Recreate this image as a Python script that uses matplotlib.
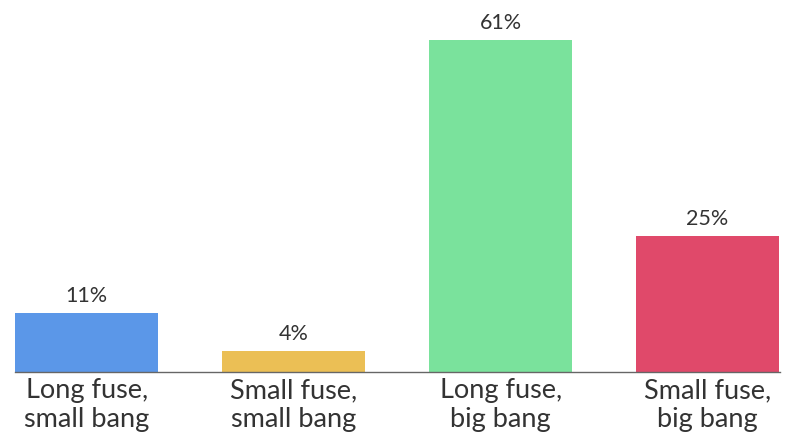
import matplotlib
matplotlib.use("Agg")
import matplotlib.pyplot as plt

categories = ["Long fuse,\nsmall bang", "Small fuse,\nsmall bang",
              "Long fuse,\nbig bang", "Small fuse,\nbig bang"]
values = [11, 4, 61, 25]
colors = ["#5B97E8", "#EBBF55", "#7AE29C", "#E0496A"]

plt.rcParams["font.family"] = ["Lato", "DejaVu Sans"]

fig = plt.figure(figsize=(8, 4.47), dpi=100)
ax = fig.add_axes([0.019, 0.1667, 0.956, 0.744])

x = range(len(values))
bars = ax.bar(x, values, color=colors, width=0.69)
for b, v in zip(bars, values):
    ax.annotate(f"{v}%", (b.get_x() + b.get_width() / 2, v),
                xytext=(0, 5), textcoords="offset points",
                ha="center", va="bottom", fontsize=15.5, color="#333333")

ax.set_xlim(-0.345, 3.35)
ax.set_ylim(0, 61)
ax.set_xticks(list(x))
ax.set_xticklabels(categories, fontsize=19.5, color="#333333", linespacing=1.22)
ax.tick_params(axis="x", length=0, pad=4)
ax.set_yticks([])
for s in ["top", "right", "left"]:
    ax.spines[s].set_visible(False)
ax.spines["bottom"].set_color("#666666")
ax.spines["bottom"].set_linewidth(1)

fig.savefig("out.png", dpi=100)
